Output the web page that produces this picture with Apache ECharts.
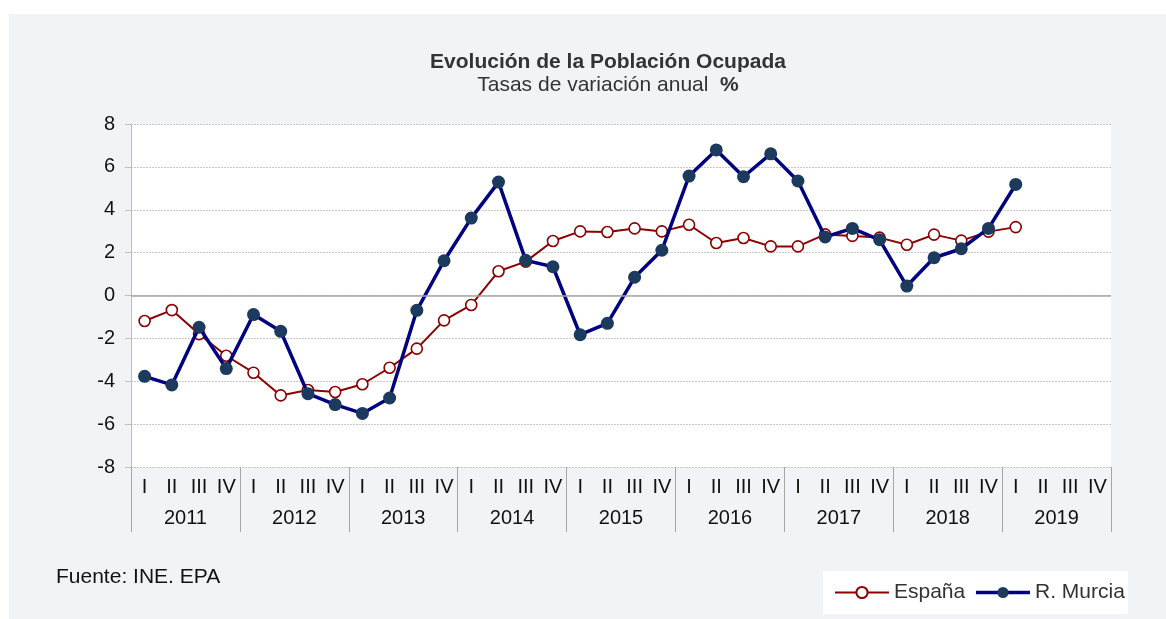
<!DOCTYPE html>
<html>
<head>
<meta charset="utf-8">
<script src="https://cdn.jsdelivr.net/npm/echarts@6/dist/echarts.min.js"></script>
<style>
  html, body { margin: 0; padding: 0; background: #fff; }
  #main { width: 1166px; height: 619px; }
</style>
</head>
<body>
<div id="main"></div>
<script>
// categorías
const trimestres = [];
const years = ['2011', '2012', '2013', '2014', '2015', '2016', '2017', '2018', '2019'];
years.forEach(() => trimestres.push('I', 'II', 'III', 'IV'));

// tasas de variación anual (%)
const espana = [
  -1.19, -0.68, -1.80, -2.81,
  -3.60, -4.66, -4.41, -4.50,
  -4.14, -3.37, -2.48, -1.16,
  -0.44, 1.13, 1.58, 2.54,
  2.99, 2.96, 3.13, 2.99,
  3.30, 2.45, 2.68, 2.29,
  2.29, 2.85, 2.78, 2.70,
  2.37, 2.84, 2.56, 2.98,
  3.19,
];
const murcia = [
  -3.77, -4.17, -1.48, -3.41,
  -0.89, -1.67, -4.58, -5.09,
  -5.50, -4.78, -0.69, 1.62,
  3.61, 5.29, 1.64, 1.34,
  -1.83, -1.30, 0.85, 2.11,
  5.57, 6.79, 5.54, 6.61,
  5.34, 2.73, 3.13, 2.60,
  0.44, 1.76, 2.18, 3.13,
  5.18,
];

const fontFam = '"Liberation Sans", Arial, sans-serif';
const myChart = echarts.init(document.getElementById('main'));
myChart.setOption({
  backgroundColor: '#fff',
  textStyle: { fontFamily: fontFam },
  animation: false,
  graphic: [
    {
      type: 'rect',
      z: -10,
      shape: { x: 9, y: 14, width: 1157, height: 605 },
      style: { fill: '#f2f3f7' },
    },
    {
      type: 'text',
      left: 56,
      top: 567,
      style: { text: 'Fuente: INE. EPA', fontSize: 21, fill: '#111', fontFamily: fontFam },
    },
  ],
  title: {
    text: 'Evolución de la Población Ocupada',
    subtext: 'Tasas de variación anual  {b|%}',
    left: 603,
    top: 47,
    textAlign: 'center',
    itemGap: 2,
    textStyle: { fontSize: 21, fontWeight: 'bold', color: '#333', fontFamily: fontFam },
    subtextStyle: {
      fontSize: 21,
      color: '#333',
      fontFamily: fontFam,
      rich: { b: { fontSize: 21, fontWeight: 'bold', color: '#333', fontFamily: fontFam } },
    },
  },
  legend: {
    left: 823,
    top: 571,
    padding: [11, 3, 11, 11],
    backgroundColor: '#fff',
    itemWidth: 54,
    itemHeight: 14,
    itemGap: 9,
    textStyle: { fontSize: 21, color: '#333', fontFamily: fontFam },
    data: [
      { name: 'España', lineStyle: { width: 2 } },
      { name: 'R. Murcia', lineStyle: { width: 3.5 } },
    ],
  },
  grid: {
    left: 131,
    right: 55,
    top: 124,
    bottom: 152,
    show: true,
    backgroundColor: '#fff',
    borderWidth: 0,
  },
  xAxis: [
    {
      type: 'category',
      data: trimestres,
      boundaryGap: true,
      axisLine: { show: false },
      axisTick: { show: false },
      axisLabel: { interval: 0, fontSize: 20, color: '#111', margin: 10 },
    },
    {
      type: 'category',
      data: years,
      position: 'bottom',
      boundaryGap: true,
      axisLine: { show: false },
      axisTick: { show: true, length: 65, lineStyle: { color: '#a6a6a6', width: 1 } },
      axisLabel: { interval: 0, fontSize: 20, color: '#111', margin: 41 },
    },
  ],
  yAxis: {
    type: 'value',
    min: -8,
    max: 8,
    interval: 2,
    axisLine: { show: true, lineStyle: { color: '#bfbfbf' } },
    axisTick: { show: true, length: 6, lineStyle: { color: '#bfbfbf' } },
    axisLabel: { fontSize: 20, color: '#111', margin: 16 },
    splitLine: { show: true, lineStyle: { color: '#c8c8c8', type: [2, 1], width: 1 } },
  },
  series: [
    {
      name: 'España',
      type: 'line',
      data: espana,
      symbol: 'circle',
      symbolSize: 11,
      lineStyle: { color: '#8b0000', width: 2 },
      itemStyle: { color: '#fff', borderColor: '#8b0000', borderWidth: 1.6 },
      z: 3,
      markLine: {
        silent: true,
        symbol: 'none',
        label: { show: false },
        lineStyle: { color: '#a6a6a6', type: 'solid', width: 1.5 },
        data: [{ yAxis: 0 }],
      },
    },
    {
      name: 'R. Murcia',
      type: 'line',
      data: murcia,
      symbol: 'circle',
      symbolSize: 13,
      lineStyle: { color: '#000080', width: 3.5 },
      itemStyle: { color: '#1b3a5e' },
      z: 4,
    },
  ],
});
</script>
</body>
</html>
